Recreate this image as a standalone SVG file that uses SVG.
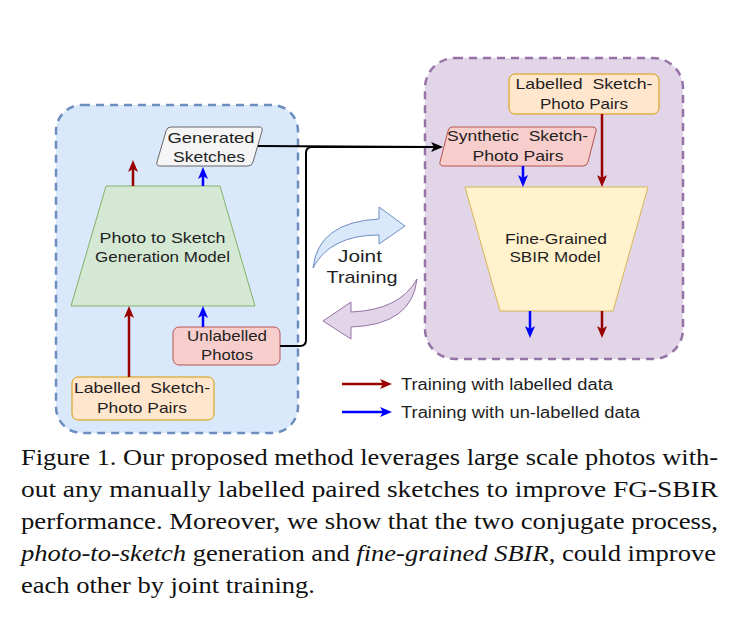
<svg xmlns="http://www.w3.org/2000/svg" width="742" height="618" viewBox="0 0 742 618">
<style>
.t{font-family:"Liberation Sans",Arial,sans-serif;font-size:15px;fill:#1f1f1f;text-anchor:middle}
.pre{white-space:pre}
.lg{font-family:"Liberation Sans",Arial,sans-serif;font-size:16px;fill:#1f1f1f}
.cap{font-family:"Liberation Serif","Times New Roman",serif;font-size:24px;fill:#111}
.red{stroke:#990000;stroke-width:2.5;fill:none}
.blue{stroke:#0000ff;stroke-width:2.5;fill:none}
.blk{stroke:#000;stroke-width:2;fill:none}
</style>
<defs>
<marker id="mr" viewBox="0 0 12 10" markerWidth="12" markerHeight="10" refX="3" refY="5" orient="auto" markerUnits="userSpaceOnUse"><path d="M0,0 L12,5 L0,10 L3,5 Z" fill="#990000"/></marker>
<marker id="mb" viewBox="0 0 12 10" markerWidth="12" markerHeight="10" refX="3" refY="5" orient="auto" markerUnits="userSpaceOnUse"><path d="M0,0 L12,5 L0,10 L3,5 Z" fill="#0000ff"/></marker>
<marker id="mk" viewBox="0 0 12 10" markerWidth="12" markerHeight="10" refX="3" refY="5" orient="auto" markerUnits="userSpaceOnUse"><path d="M0,0 L12,5 L0,10 L3,5 Z" fill="#000"/></marker>
</defs>
<rect width="742" height="618" fill="#fff"/>
<g id="left-container"><rect x="56" y="105" width="242" height="328" rx="26" fill="#dae8fc" stroke="#6c8ebf" stroke-width="2.5" stroke-dasharray="8 6"/></g>
<g id="right-container"><rect x="425" y="58" width="258" height="301" rx="30" fill="#e1d5e7" stroke="#9673a6" stroke-width="2.5" stroke-dasharray="8 6"/></g>
<g id="generation-model">
<path d="M106,186 L220,186 L255,306 L71,306 Z" fill="#d5e8d4" stroke="#82b366" stroke-width="1"/>
<text class="t" x="162.5" y="243" textLength="126" lengthAdjust="spacingAndGlyphs">Photo to Sketch</text>
<text class="t" x="162.5" y="262" textLength="135" lengthAdjust="spacingAndGlyphs">Generation Model</text>
</g>
<g id="generated-sketches">
<path d="M171,127 L259,127 Q263,127 262,131 L253,162 Q252,166 248,166 L160,166 Q156,166 157,162 L166,131 Q167,127 171,127 Z" fill="#f5f5f5" stroke="#666" stroke-width="1"/>
<text class="t" x="211" y="143" textLength="87" lengthAdjust="spacingAndGlyphs">Generated</text>
<text class="t" x="209" y="162" textLength="72" lengthAdjust="spacingAndGlyphs">Sketches</text>
</g>
<g id="unlabelled-photos">
<rect x="173" y="327" width="107" height="38" rx="6" fill="#f8cecc" stroke="#b85450" stroke-width="1"/>
<text class="t" x="227" y="341" textLength="80" lengthAdjust="spacingAndGlyphs">Unlabelled</text>
<text class="t" x="227" y="360" textLength="52" lengthAdjust="spacingAndGlyphs">Photos</text>
</g>
<g id="labelled-pairs-left">
<rect x="72" y="377" width="142" height="43" rx="6" fill="#ffe6cc" stroke="#d79b00" stroke-width="1"/>
<text class="t pre" x="142" y="393" textLength="136" lengthAdjust="spacingAndGlyphs">Labelled  Sketch-</text>
<text class="t" x="142" y="413" textLength="90" lengthAdjust="spacingAndGlyphs">Photo Pairs</text>
</g>
<g id="labelled-pairs-right">
<rect x="509" y="74" width="150" height="40" rx="6" fill="#ffe6cc" stroke="#d79b00" stroke-width="1"/>
<text class="t pre" x="584" y="89" textLength="137" lengthAdjust="spacingAndGlyphs">Labelled  Sketch-</text>
<text class="t" x="584" y="109" textLength="88" lengthAdjust="spacingAndGlyphs">Photo Pairs</text>
</g>
<g id="synthetic-pairs">
<path d="M452,127 L592,127 Q597,127 596,131 L588,162 Q587,166 583,166 L444,166 Q439,166 440,162 L448,131 Q449,127 452,127 Z" fill="#f8cecc" stroke="#b85450" stroke-width="1"/>
<text class="t pre" x="517.5" y="141" textLength="141" lengthAdjust="spacingAndGlyphs">Synthetic  Sketch-</text>
<text class="t" x="518" y="161" textLength="91" lengthAdjust="spacingAndGlyphs">Photo Pairs</text>
</g>
<g id="sbir-model">
<path d="M465,187 L648,187 L613,311 L500,311 Z" fill="#fff2cc" stroke="#d6b656" stroke-width="1"/>
<text class="t" x="556" y="244" textLength="102" lengthAdjust="spacingAndGlyphs">Fine-Grained</text>
<text class="t" x="555" y="262" textLength="91" lengthAdjust="spacingAndGlyphs">SBIR Model</text>
</g>
<g id="joint-training">
<path d="M313,268 Q318,222 379,219 L379,207 L405,226 L379,244 L379,235 Q330,235 313,268 Z" fill="#dae8fc" stroke="#6c8ebf" stroke-width="1"/>
<path d="M417,279 Q412,325 351,327 L351,339 L323,321 L351,302 L351,312 Q400,310 417,279 Z" fill="#e1d5e7" stroke="#9673a6" stroke-width="1"/>
<text class="t" x="360" y="262" style="font-size:17px" textLength="44" lengthAdjust="spacingAndGlyphs">Joint</text>
<text class="t" x="362" y="283" style="font-size:17px" textLength="71" lengthAdjust="spacingAndGlyphs">Training</text>
</g>
<g id="connectors">
<line class="red" x1="133" y1="186" x2="133" y2="169" marker-end="url(#mr)"/>
<line class="blue" x1="203" y1="186" x2="203" y2="176" marker-end="url(#mb)"/>
<line class="red" x1="129" y1="377" x2="129" y2="315" marker-end="url(#mr)"/>
<line class="blue" x1="203" y1="327" x2="203" y2="315" marker-end="url(#mb)"/>
<line class="blue" x1="523" y1="166" x2="523" y2="178" marker-end="url(#mb)"/>
<line class="red" x1="602" y1="114" x2="602" y2="178" marker-end="url(#mr)"/>
<line class="blue" x1="530" y1="311" x2="530" y2="329" marker-end="url(#mb)"/>
<line class="red" x1="602" y1="311" x2="602" y2="329" marker-end="url(#mr)"/>
<path class="blk" d="M258,146 L434,147" marker-end="url(#mk)"/>
<path class="blk" d="M280,346 L300,346 Q306,346 306,340 L306,153 Q306,147 312,147 L434,147"/>
<line class="red" x1="342" y1="384" x2="383" y2="384" marker-end="url(#mr)"/>
<line class="blue" x1="342" y1="412" x2="383" y2="412" marker-end="url(#mb)"/>
</g>
<g id="legend">
<text class="lg" x="401" y="390" textLength="212" lengthAdjust="spacingAndGlyphs">Training with labelled data</text>
<text class="lg" x="401" y="418" textLength="239" lengthAdjust="spacingAndGlyphs">Training with un-labelled data</text>
</g>
<g id="caption">
<text class="cap" x="21" y="465" textLength="697" lengthAdjust="spacingAndGlyphs">Figure 1. Our proposed method leverages large scale photos with-</text>
<text class="cap" x="21" y="497" textLength="697" lengthAdjust="spacingAndGlyphs">out any manually labelled paired sketches to improve FG-SBIR</text>
<text class="cap" x="21" y="529" textLength="697" lengthAdjust="spacingAndGlyphs">performance. Moreover, we show that the two conjugate process,</text>
<text class="cap" x="21" y="561" textLength="695" lengthAdjust="spacingAndGlyphs"><tspan font-style="italic">photo-to-sketch</tspan> generation and <tspan font-style="italic">fine-grained SBIR</tspan>, could improve</text>
<text class="cap" x="21" y="593" textLength="294" lengthAdjust="spacingAndGlyphs">each other by joint training.</text>
</g>
</svg>
